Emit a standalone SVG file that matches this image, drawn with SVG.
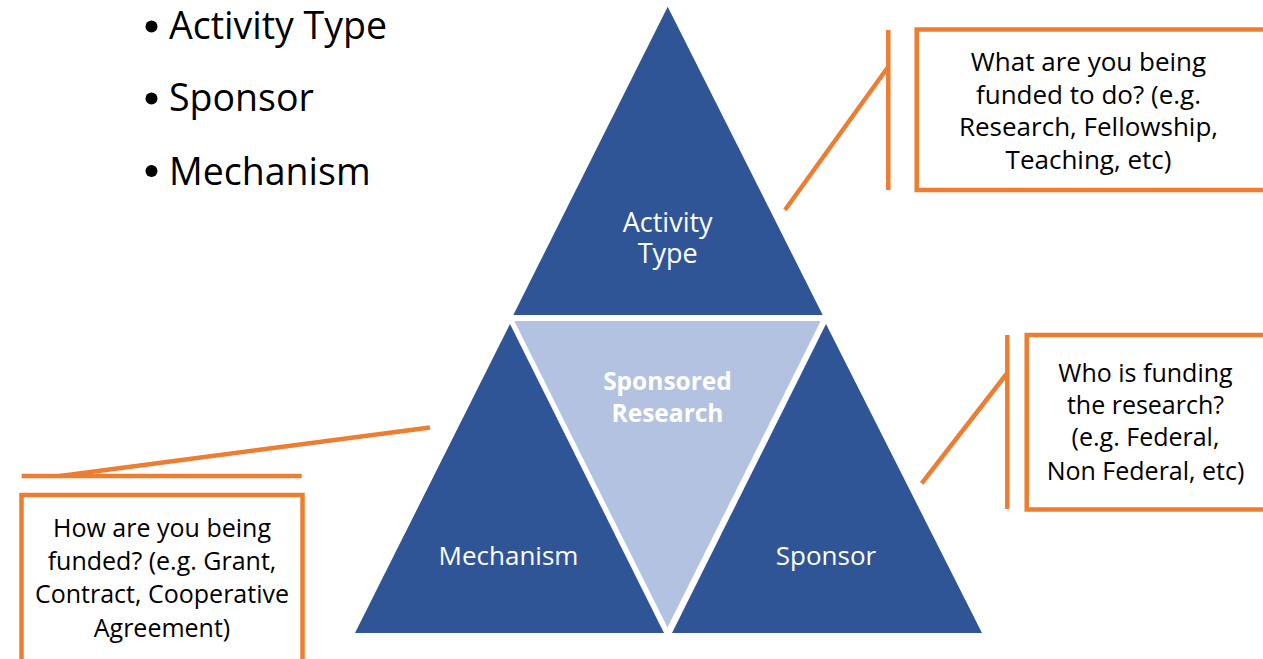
<svg xmlns="http://www.w3.org/2000/svg" width="1263" height="659" viewBox="0 0 1263 659">
  <style>
    .dark { fill: #2F5597; }
    .light { fill: #B4C2E1; stroke: #FFFFFF; stroke-width: 4; stroke-linejoin: miter; }
    .label { font-family: "Open Sans", "Liberation Sans", sans-serif; font-size: 26px; fill: #FFFFFF; text-anchor: middle; }
    .label-wide { font-size: 27px; }
    .core { font-family: "Open Sans", "Liberation Sans", sans-serif; font-size: 24.5px; font-weight: bold; fill: #FFFFFF; text-anchor: middle; }
    .note { font-family: "Open Sans", "Liberation Sans", sans-serif; font-size: 25px; fill: #000000; text-anchor: middle; }
    .note-wide { font-size: 26px; }
    .bullet { font-family: "Open Sans", "Liberation Sans", sans-serif; font-size: 37.5px; fill: #000000; }
    .box { fill: #FFFFFF; stroke: #ED7D31; stroke-width: 4.5; }
    .lead { fill: none; stroke: #ED7D31; stroke-width: 4.5; stroke-linecap: butt; }
  </style>

  <!-- bullet list -->
  <g id="legend">
    <circle cx="151.5" cy="26.5" r="6" fill="#000000"/>
    <text class="bullet" x="169" y="39">Activity Type</text>
    <circle cx="151.5" cy="98.5" r="6" fill="#000000"/>
    <text class="bullet" x="169" y="111">Sponsor</text>
    <circle cx="151.5" cy="171" r="6" fill="#000000"/>
    <text class="bullet" x="169" y="185">Mechanism</text>
  </g>

  <!-- pyramid segments -->
  <g id="activity-type">
    <polygon class="dark" points="667.7,6.7 822.7,315 513.3,315"/>
    <text class="label label-wide" x="667.7" y="231.5">Activity</text>
    <text class="label label-wide" x="667.7" y="262.5">Type</text>
  </g>
  <g id="sponsored-research">
    <polygon class="light" points="511,319 824,319 667.5,632"/>
    <text class="core" x="667.5" y="390">Sponsored</text>
    <text class="core" x="667.5" y="421.5">Research</text>
  </g>
  <g id="mechanism">
    <polygon class="dark" points="510,324 664,633 355,633"/>
    <text class="label" x="508.5" y="565">Mechanism</text>
  </g>
  <g id="sponsor">
    <polygon class="dark" points="826,324 982,633 672,633"/>
    <text class="label" x="826" y="565">Sponsor</text>
  </g>

  <!-- callout boxes -->
  <g id="note-activity">
    <rect class="box" x="916.7" y="29.5" width="360" height="160.5"/>
    <text class="note note-wide" x="1088.5" y="71">What are you being</text>
    <text class="note note-wide" x="1088.5" y="103.5">funded to do? (e.g.</text>
    <text class="note note-wide" x="1088.5" y="135.5">Research, Fellowship,</text>
    <text class="note note-wide" x="1088.5" y="168.5">Teaching, etc)</text>
  </g>
  <g id="note-sponsor">
    <rect class="box" x="1026.7" y="335" width="250" height="174.5"/>
    <text class="note" x="1145.5" y="382">Who is funding</text>
    <text class="note" x="1145.5" y="414">the research?</text>
    <text class="note" x="1145.5" y="446">(e.g. Federal,</text>
    <text class="note" x="1145.5" y="479.5">Non Federal, etc)</text>
  </g>
  <g id="note-mechanism">
    <rect class="box" x="21.5" y="495" width="281" height="180"/>
    <text class="note" x="162" y="537">How are you being</text>
    <text class="note" x="162" y="570">funded? (e.g. Grant,</text>
    <text class="note" x="162" y="603">Contract, Cooperative</text>
    <text class="note" x="162" y="636.5">Agreement)</text>
  </g>

  <!-- callout leader lines -->
  <g id="connectors">
    <polyline class="lead" points="888.3,30 888.3,190"/>
    <line class="lead" x1="888.3" y1="66.7" x2="785" y2="210"/>
    <polyline class="lead" points="1007.3,335 1007.3,509"/>
    <line class="lead" x1="1007.3" y1="373" x2="921.7" y2="483.3"/>
    <polyline class="lead" points="21.7,476 301.7,476"/>
    <line class="lead" x1="60" y1="476" x2="430" y2="427.5"/>
  </g>
</svg>
